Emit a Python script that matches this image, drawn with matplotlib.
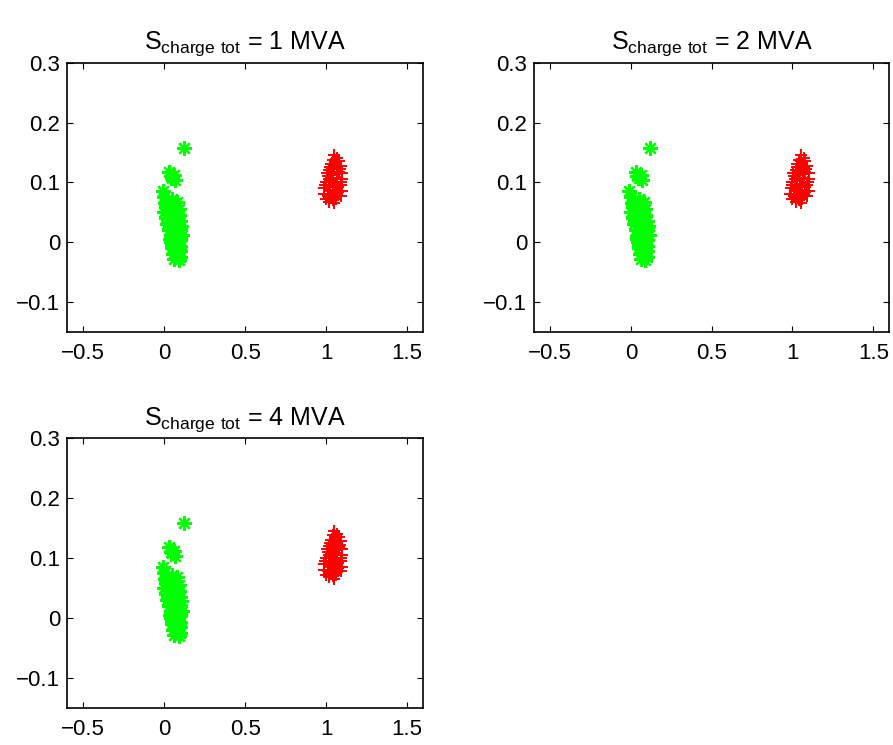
import numpy as np
import matplotlib.pyplot as plt

plt.rcParams['font.family'] = ['Liberation Sans', 'DejaVu Sans']
plt.rcParams['mathtext.default'] = 'regular'

# values
titles = ['1 MVA', '2 MVA', '4 MVA']

green_x = [0.12, 0.03, 0.06, 0.07, 0.05, 0.04, -0.01, 0.0,
           0.02, 0.05, 0.08, 0.01, 0.04, 0.07, 0.09, 0.0, 0.03, 0.06, 0.09,
           0.01, 0.04, 0.075, 0.10, 0.02, 0.05, 0.08, 0.10, 0.03, 0.06, 0.09, 0.11,
           0.04, 0.07, 0.10, 0.045, 0.075, 0.10, 0.05, 0.08, 0.10, 0.055, 0.08, 0.10,
           0.06, 0.09, 0.005, 0.035, 0.065, 0.025, 0.055, 0.085, 0.105, 0.035, 0.065,
           0.095, 0.05, 0.085, 0.07, 0.09]
green_y = [0.158, 0.118, 0.112, 0.104, 0.108, 0.11, 0.085, 0.075,
           0.07, 0.072, 0.068, 0.06, 0.062, 0.058, 0.055, 0.05, 0.048, 0.052, 0.045,
           0.04, 0.038, 0.042, 0.035, 0.03, 0.028, 0.032, 0.022, 0.02, 0.018, 0.015, 0.012,
           0.01, 0.008, 0.004, 0.0, -0.002, -0.006, -0.01, -0.012, -0.015, -0.02, -0.022, -0.025,
           -0.028, -0.03, 0.065, 0.055, 0.045, 0.035, 0.025, 0.025, 0.028, 0.005, 0.015,
           0.008, -0.005, 0.0, -0.018, -0.01]

red_x = [1.05, 1.07, 1.08, 1.03, 1.06, 1.09, 1.02, 1.05, 1.08, 1.10, 1.01, 1.04, 1.07, 1.10,
         1.00, 1.03, 1.06, 1.09, 0.99, 1.02, 1.05, 1.08, 0.985, 1.01, 1.04, 1.07, 1.10,
         1.00, 1.03, 1.06, 1.09, 1.02, 1.05, 1.04, 1.035, 1.065, 1.015, 1.045, 1.075,
         1.055, 1.025, 1.085, 1.005, 1.035, 1.065, 1.095, 0.995, 1.025, 1.055, 1.015, 1.045,
         1.075, 1.04, 1.06]
red_y = [0.145, 0.14, 0.135, 0.13, 0.132, 0.128, 0.12, 0.122, 0.118, 0.115, 0.11, 0.112, 0.108, 0.105,
         0.10, 0.102, 0.098, 0.095, 0.09, 0.088, 0.092, 0.085, 0.08, 0.078, 0.082, 0.079, 0.086,
         0.072, 0.074, 0.076, 0.078, 0.068, 0.066, 0.138, 0.125, 0.125, 0.105, 0.105, 0.092,
         0.135, 0.126, 0.122, 0.115, 0.116, 0.114, 0.1, 0.095, 0.094, 0.096, 0.085, 0.086,
         0.084, 0.07, 0.072]

fig = plt.figure(figsize=(8.93, 7.45), dpi=100)
rects = [[0.075, 0.554, 0.399, 0.362],
         [0.598, 0.554, 0.398, 0.362],
         [0.075, 0.0497, 0.399, 0.362]]

for r, t in zip(rects, titles):
    ax = fig.add_axes(r)
    ax.plot(green_x, green_y, linestyle='none', marker=(8, 2, 0), markersize=10.5,
            markeredgecolor=(0, 1, 0), markeredgewidth=1.6)
    ax.plot(red_x, red_y, linestyle='none', marker='+', markersize=9,
            markeredgecolor=(1, 0, 0), markeredgewidth=1.4)
    ax.set_xlim(-0.6, 1.6)
    ax.set_ylim(-0.15, 0.3)
    ax.set_xticks([-0.5, 0, 0.5, 1, 1.5])
    ax.set_xticklabels(['\u22120.5', '0', '0.5', '1', '1.5'])
    ax.set_yticks([-0.1, 0, 0.1, 0.2, 0.3])
    ax.set_yticklabels(['\u22120.1', '0', '0.1', '0.2', '0.3'])
    ax.tick_params(direction='in', top=True, right=True, length=4, labelsize=16, pad=5)
    ax.tick_params(axis='x', pad=8)
    for s in ax.spines.values():
        s.set_linewidth(1.2)
    ax.set_title('$S_{charge\\ tot}$ = ' + t, fontsize=18, pad=10)

plt.savefig('out.png', dpi=100)
